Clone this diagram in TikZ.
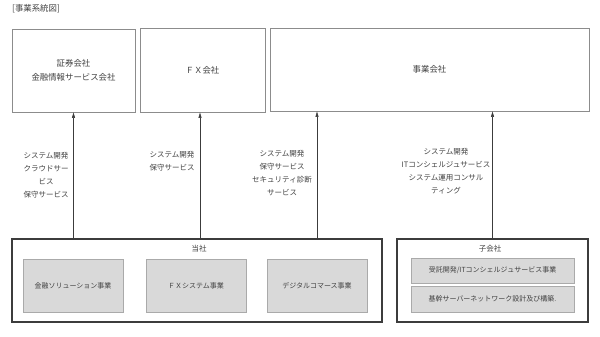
\documentclass[tikz,border=0pt]{standalone}
\usepackage{fontspec}
\setmainfont{Noto Sans CJK JP}
\usepackage{tikz}
\usetikzlibrary{arrows.meta,positioning}
\usepackage{xcolor}
\definecolor{mytext}{RGB}{64,64,64}
\definecolor{myframe}{RGB}{140,140,140}
\definecolor{mydark}{RGB}{60,60,60}
\definecolor{myfill}{RGB}{217,217,217}
\definecolor{mygrayline}{RGB}{170,170,170}

\tikzset{
  client/.style={draw=myframe, line width=0.8pt, rectangle, inner sep=0pt, align=center, font=\fontsize{8.4pt}{14pt}\selectfont},
  group/.style={draw=mydark, line width=1.2pt, rectangle, inner sep=0pt},
  biz/.style={draw=mygrayline, fill=myfill, line width=0.6pt, rectangle, inner sep=0pt, align=center, font=\fontsize{7pt}{12pt}\selectfont},
  svc/.style={align=center, inner sep=0pt},
  arr/.style={draw=mydark, line width=0.6pt, -{Triangle[length=5.5pt,width=3pt]}}
}

\begin{document}
\begin{tikzpicture}[x=1pt, y=-1pt, font=\fontsize{7.5pt}{13pt}\selectfont, text=mytext]
  \useasboundingbox (0,0) rectangle (600,337);

  \node[anchor=west, inner sep=0pt, font=\fontsize{8.4pt}{10pt}\selectfont] (title) at (12,9) {[事業系統図]};

  % 取引先
  \node[client, minimum width=123pt, minimum height=83pt] (shoken) at (73.5,70.5) {証券会社\\金融情報サービス会社};
  \node[client, minimum width=125pt, minimum height=84pt] (fx) at (202.5,70) {ＦＸ会社};
  \node[client, minimum width=319pt, minimum height=83pt] (jigyo) at (429.5,69.5) {事業会社};

  % 当社
  \node[group, minimum width=370pt, minimum height=83pt] (tousha) at (197,280.5) {};
  \node[svc] (toushalbl) at (199,249) {当社};
  \node[biz, minimum width=100pt, minimum height=53pt] (kinyu) at (73,285.5) {金融ソリューション事業};
  \node[biz, minimum width=100pt, minimum height=53pt] (fxsys) at (196,285.5) {ＦＸシステム事業};
  \node[biz, minimum width=100pt, minimum height=53pt] (digital) at (317,285.5) {デジタルコマース事業};

  % 子会社
  \node[group, minimum width=191pt, minimum height=83pt] (kogaisha) at (492.5,280.5) {};
  \node[svc] (kogaishalbl) at (490,249) {子会社};
  \node[biz, minimum width=163pt, minimum height=25pt] (jutaku) at (492.5,270.5) {受託開発/ITコンシェルジュサービス事業};
  \node[biz, minimum width=163pt, minimum height=26pt] (kikan) at (492.5,299) {基幹サーバーネットワーク設計及び構築.};

  % 提供サービス
  \node[svc] (svc1) at (46,175.5) {システム開発\\クラウドサー\\ビス\\保守サービス};
  \node[svc] (svc2) at (172,161.5) {システム開発\\保守サービス};
  \node[svc] (svc3) at (282,173.5) {システム開発\\保守サービス\\セキュリティ診断\\サービス};
  \node[svc] (svc4) at (446,171.5) {システム開発\\ITコンシェルジュサービス\\システム運用コンサル\\ティング};

  \coordinate (x2) at (200,0);
  \coordinate (x3) at (317,0);
  \draw[arr] (tousha.north -| shoken.south) -- (shoken.south);
  \draw[arr] (tousha.north -| x2) -- (fx.south -| x2);
  \draw[arr] (tousha.north -| x3) -- (jigyo.south -| x3);
  \draw[arr] (kogaisha.north) -- (kogaisha.north |- jigyo.south);
\end{tikzpicture}
\end{document}
